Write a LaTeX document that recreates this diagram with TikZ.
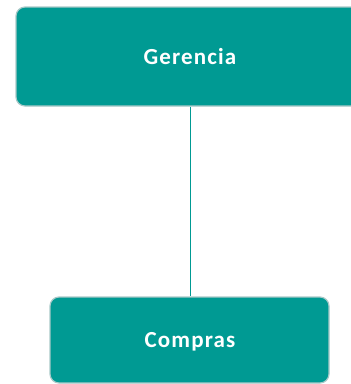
\documentclass[tikz,border=0pt]{standalone}
\usepackage{fontspec}
\setmainfont{Carlito}
\newfontfamily\lblfont[LetterSpace=5]{Carlito}
\definecolor{teal1}{HTML}{009A93}
\definecolor{edge1}{HTML}{A9C9C8}
\begin{document}
\begin{tikzpicture}[x=1pt,y=-1pt,
  box/.style={draw=edge1,line width=1.2pt,fill=teal1,rounded corners=9pt},
  lbl/.style={text=white,font=\lblfont\fontsize{23}{27}\selectfont\bfseries}]
\useasboundingbox (0,0) rectangle (351,384);
\path[box] (16,7) rectangle (360,106);
\path[box] (50,297) rectangle (329,383);
\node[lbl] (g) at (190,57) {Gerencia};
\node[lbl] (c) at (190,342) {Compras};
\coordinate (gt) at (190,106.6);
\coordinate (cb) at (190,296.4);
\draw[teal1,line width=1pt] (gt) -- (cb);
\end{tikzpicture}
\end{document}
